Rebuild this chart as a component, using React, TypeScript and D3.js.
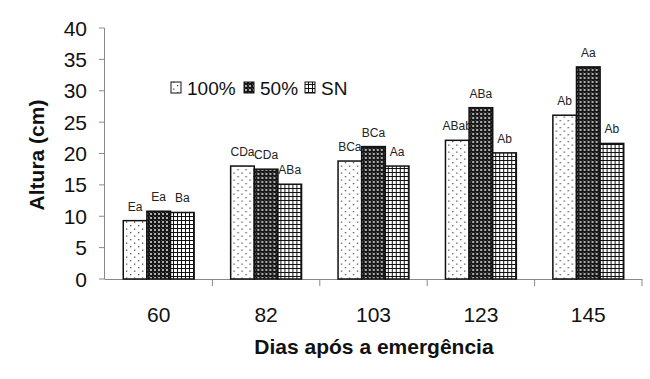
import React from "react";
import * as d3 from "d3";

const categories = ["60", "82", "103", "123", "145"];
const seriesNames = ["100%", "50%", "SN"];
const values100 = [9.3, 18.0, 18.8, 22.1, 26.1];
const values50 = [10.8, 17.5, 21.1, 27.3, 33.8];
const valuesSN = [10.6, 15.1, 18.0, 20.1, 21.6];
const labels100 = ["Ea", "CDa", "BCa", "ABab", "Ab"];
const labels50 = ["Ea", "CDa", "BCa", "ABa", "Aa"];
const labelsSN = ["Ba", "ABa", "Aa", "Ab", "Ab"];
const yTicks = [0, 5, 10, 15, 20, 25, 30, 35, 40];

const seriesValues = [values100, values50, valuesSN];
const seriesLabels = [labels100, labels50, labelsSN];
const patternIds = ["pDots", "pDense", "pGrid"];

export default function App() {
  const W = 650, H = 379;
  const y = d3.scaleLinear().domain([0, 40]).range([279, 28]);
  const x = d3.scaleBand().domain(categories).range([105, 642]).padding(0);
  const bw = x.bandwidth();
  const xs = d3.scaleBand().domain(seriesNames).range([bw * 0.17, bw * 0.83]).padding(0);
  const font = "'Liberation Sans', Arial, sans-serif";
  const axisColor = "#888";

  return (
    <svg width={W} height={H} style={{ position: "absolute", left: 0, top: 0, background: "#fff", fontFamily: font }}>
      <defs>
        <pattern id="pDots" width="8" height="7" patternUnits="userSpaceOnUse">
          <rect width="8" height="7" fill="#fff" />
          <rect x="1" y="1" width="1.3" height="1.3" fill="#555" />
          <rect x="5" y="4.5" width="1.3" height="1.3" fill="#555" />
        </pattern>
        <pattern id="pDense" width="4" height="4" patternUnits="userSpaceOnUse">
          <rect width="4" height="4" fill="#161616" />
          <rect x="1" y="1" width="2" height="2" fill="#9a9a9a" />
          <rect x="1.5" y="1.5" width="1" height="1" fill="#e8e8e8" />
          <rect x="0" y="0" width="1" height="1" fill="#555" />
        </pattern>
        <pattern id="pGrid" width="4" height="4" patternUnits="userSpaceOnUse">
          <rect width="4" height="4" fill="#fff" />
          <rect x="0" y="0" width="4" height="1" fill="#111" />
          <rect x="0" y="0" width="1" height="4" fill="#111" />
        </pattern>
      </defs>
      <rect width={W} height={H} fill="#fff" />

      {/* y axis */}
      <line x1={104.5} x2={104.5} y1={y(40)} y2={y(0)} stroke={axisColor} strokeWidth={1} />
      {yTicks.map((t) => (
        <g key={t}>
          <line x1={99} x2={104.5} y1={y(t)} y2={y(t)} stroke={axisColor} strokeWidth={1} />
          <text x={87} y={y(t)} dy="0.36em" textAnchor="end" fontSize={21} fill="#111">{t}</text>
        </g>
      ))}
      {/* x axis */}
      <line x1={104.5} x2={642} y1={y(0) + 0.5} y2={y(0) + 0.5} stroke={axisColor} strokeWidth={1} />
      {categories.map((c) => (
        <line key={c} x1={(x(c) as number) + bw} x2={(x(c) as number) + bw} y1={y(0)} y2={y(0) + 7} stroke={axisColor} strokeWidth={1} />
      ))}
      {categories.map((c) => (
        <text key={c} x={(x(c) as number) + bw / 2} y={322} textAnchor="middle" fontSize={21} fill="#111">{c}</text>
      ))}

      {/* bars */}
      {categories.map((c, i) => (
        <g key={c} transform={`translate(${x(c)},0)`}>
          {seriesNames.map((s, j) => {
            const v = seriesValues[j][i];
            const bx = xs(s) as number;
            return (
              <g key={s}>
                <rect x={bx} y={y(v)} width={xs.bandwidth()} height={y(0) - y(v)} fill={`url(#${patternIds[j]})`} stroke="#111" strokeWidth={1.5} />
                <text x={bx + xs.bandwidth() / 2} y={y(v) - 10} textAnchor="middle" fontSize={12} fill="#222">{seriesLabels[j][i]}</text>
              </g>
            );
          })}
        </g>
      ))}

      {/* legend */}
      {seriesNames.map((s, j) => {
        const lx = [171, 244, 305][j];
        return (
          <g key={s}>
            <rect x={lx} y={82} width={10} height={11} fill={`url(#${patternIds[j]})`} stroke="#111" strokeWidth={1} />
            <text x={lx + 16} y={94.5} fontSize={19} fill="#111">{s}</text>
          </g>
        );
      })}

      {/* titles */}
      <text transform={`translate(44,155) rotate(-90)`} textAnchor="middle" fontSize={21} fontWeight="bold" fill="#111">Altura (cm)</text>
      <text x={374} y={354} textAnchor="middle" fontSize={21} fontWeight="bold" fill="#111">Dias após a emergência</text>
    </svg>
  );
}
